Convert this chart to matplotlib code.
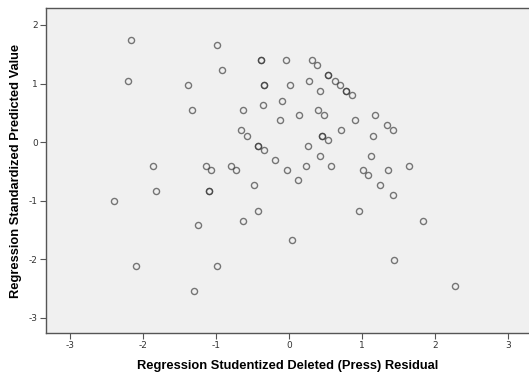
import matplotlib
matplotlib.use('Agg')
import matplotlib.pyplot as plt

plt.rcParams['axes.unicode_minus'] = False

# Residuos studentizados eliminados vs valores pronosticados tipificados
resid = [-2.17, -2.20, -0.98, -0.92, -1.39, -1.33, -0.38, -0.38, -0.34, -0.34,
         -0.63, -0.36, -0.66, -0.58, -0.42, -0.42, -0.34, -0.19, -1.87, -1.14,
         -1.07, -0.80, -0.72, -0.48, -0.10, -0.12, -2.40, -1.82, -1.10, -1.10,
         -0.43, -0.63, -1.25, -2.09, -0.98, -1.30, -0.04, 0.31, 0.39, 0.54,
         0.54, 0.63, 0.70, 0.78, 0.78, 0.86, 0.01, 0.28, 0.43, 0.14,
         0.40, 0.48, 0.91, 1.18, 1.34, 1.42, 0.72, 0.45, 0.45, 0.53,
         1.15, 0.26, 0.42, 1.12, -0.03, 0.24, 0.58, 1.01, 1.09, 1.36,
         1.64, 0.13, 1.25, 1.42, 0.96, 1.84, 0.04, 1.44, 2.28]
pred = [1.74, 1.05, 1.65, 1.23, 0.97, 0.54, 1.40, 1.40, 0.97, 0.97,
        0.54, 0.63, 0.20, 0.11, -0.06, -0.06, -0.14, -0.31, -0.40, -0.40,
        -0.48, -0.40, -0.48, -0.74, 0.71, 0.37, -1.00, -0.83, -0.83, -0.83,
        -1.17, -1.34, -1.42, -2.11, -2.11, -2.54, 1.40, 1.40, 1.31, 1.14,
        1.14, 1.05, 0.97, 0.88, 0.88, 0.80, 0.97, 1.05, 0.88, 0.46,
        0.54, 0.46, 0.37, 0.46, 0.29, 0.20, 0.20, 0.11, 0.11, 0.03,
        0.11, -0.06, -0.23, -0.23, -0.48, -0.40, -0.40, -0.48, -0.57, -0.48,
        -0.40, -0.65, -0.74, -0.91, -1.17, -1.34, -1.68, -2.02, -2.45]

fig = plt.figure(figsize=(5.29, 3.76), dpi=100)
ax = fig.add_axes([0.087, 0.1144, 0.913, 0.8643])
ax.set_facecolor('#f0f0f0')

ax.plot(resid, pred, 'o', markersize=4.4, markerfacecolor='none',
        markeredgecolor=(0.2, 0.2, 0.2, 0.65), markeredgewidth=1.0)

ax.set_xlim(-3.33, 3.29)
ax.set_ylim(-3.26, 2.29)
ax.set_xticks([-3, -2, -1, 0, 1, 2, 3])
ax.set_yticks([-3, -2, -1, 0, 1, 2])

for s in ['top', 'bottom', 'left']:
    ax.spines[s].set_color('#555555')
    ax.spines[s].set_linewidth(1.0)
ax.spines['right'].set_visible(False)
ax.tick_params(axis='both', direction='out', length=4, width=0.8, color='#555555',
               labelsize=6.5, labelcolor='#333333', pad=2)

ax.set_xlabel('Regression Studentized Deleted (Press) Residual', fontsize=9.3,
              fontweight='bold', family='Liberation Sans', labelpad=7)
ax.set_ylabel('Regression Standardized Predicted Value', fontsize=9.3,
              fontweight='bold', family='Liberation Sans', labelpad=5)

plt.savefig('out.png', dpi=100)
